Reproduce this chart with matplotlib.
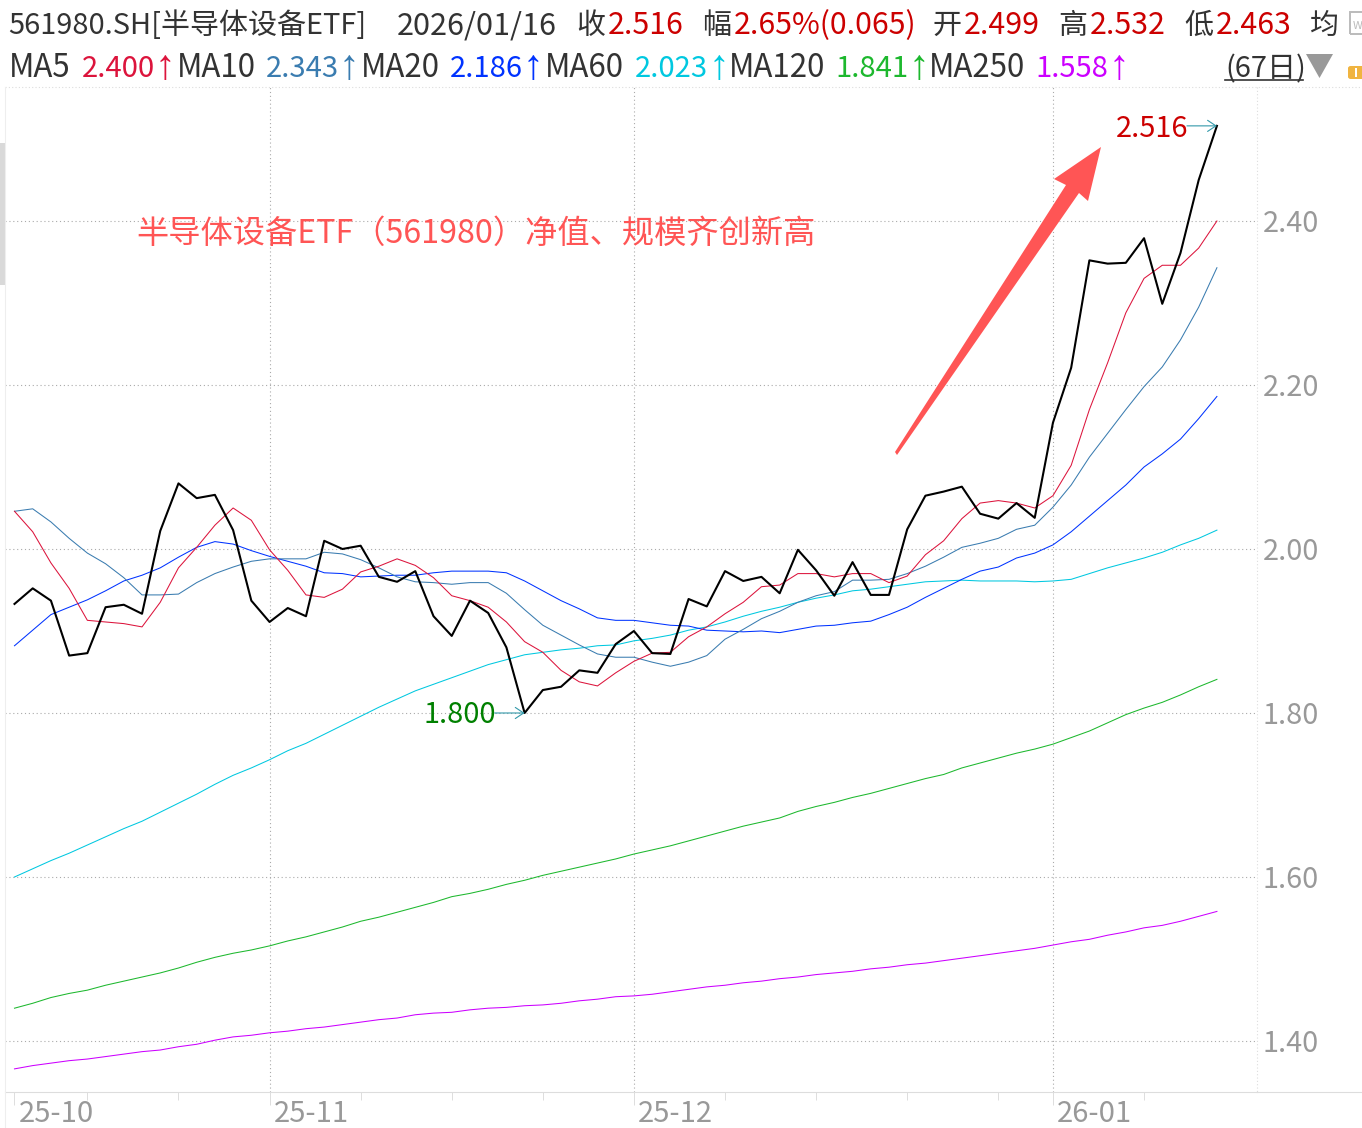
import matplotlib
matplotlib.use('Agg')
import matplotlib.pyplot as plt
from matplotlib.lines import Line2D
from matplotlib.patches import Polygon, Rectangle, FancyBboxPatch
from matplotlib.transforms import ScaledTranslation

plt.rcParams['font.family'] = ['Noto Sans CJK SC', 'DejaVu Sans']

W, H = 1362, 1128

# all series, 67 trading days
close = [1.933, 1.952, 1.937, 1.870, 1.873, 1.929, 1.932, 1.921, 2.022, 2.080, 2.062, 2.066, 2.023, 1.937, 1.911, 1.928, 1.918,
         2.010, 2.000, 2.004, 1.966, 1.960, 1.973, 1.918, 1.894, 1.937, 1.922, 1.880, 1.800, 1.828, 1.832, 1.852, 1.849, 1.884,
         1.900, 1.873, 1.872, 1.939, 1.930, 1.973, 1.961, 1.966, 1.946, 1.999, 1.974, 1.943, 1.984, 1.944, 1.944, 2.024, 2.065,
         2.070, 2.076, 2.043, 2.037, 2.056, 2.038, 2.154, 2.221, 2.352, 2.348, 2.349, 2.379, 2.299, 2.361, 2.450, 2.516]
ma5 = [2.046, 2.021, 1.983, 1.952, 1.913, 1.911, 1.909, 1.905, 1.935, 1.977, 2.002, 2.029, 2.050, 2.035, 1.999, 1.974, 1.944,
       1.941, 1.951, 1.972, 1.979, 1.988, 1.980, 1.965, 1.943, 1.937, 1.929, 1.911, 1.887, 1.874, 1.852, 1.838, 1.833, 1.849,
       1.863, 1.873, 1.874, 1.893, 1.905, 1.921, 1.935, 1.954, 1.956, 1.970, 1.970, 1.966, 1.970, 1.970, 1.959, 1.967, 1.993,
       2.010, 2.037, 2.056, 2.059, 2.056, 2.050, 2.065, 2.102, 2.170, 2.227, 2.288, 2.330, 2.346, 2.346, 2.367, 2.400]
ma10 = [2.046, 2.049, 2.033, 2.013, 1.995, 1.982, 1.965, 1.944, 1.944, 1.945, 1.959, 1.970, 1.978, 1.985, 1.988, 1.988, 1.988,
        1.996, 1.994, 1.987, 1.977, 1.966, 1.960, 1.959, 1.957, 1.959, 1.959, 1.946, 1.926, 1.907, 1.895, 1.883, 1.872, 1.868,
        1.868, 1.862, 1.857, 1.862, 1.870, 1.890, 1.902, 1.915, 1.924, 1.935, 1.943, 1.948, 1.962, 1.962, 1.963, 1.970, 1.979,
        1.990, 2.002, 2.007, 2.013, 2.024, 2.029, 2.051, 2.078, 2.112, 2.141, 2.170, 2.198, 2.222, 2.255, 2.295, 2.343]
ma20 = [1.882, 1.901, 1.920, 1.929, 1.938, 1.949, 1.961, 1.968, 1.977, 1.990, 2.002, 2.009, 2.006, 1.998, 1.991, 1.985, 1.979,
        1.971, 1.970, 1.966, 1.967, 1.968, 1.968, 1.971, 1.973, 1.973, 1.973, 1.971, 1.961, 1.949, 1.937, 1.927, 1.916, 1.913,
        1.913, 1.910, 1.907, 1.906, 1.901, 1.900, 1.899, 1.900, 1.898, 1.902, 1.906, 1.907, 1.910, 1.912, 1.920, 1.929, 1.941,
        1.952, 1.963, 1.973, 1.978, 1.989, 1.995, 2.005, 2.021, 2.040, 2.059, 2.078, 2.100, 2.116, 2.134, 2.159, 2.186]
ma60 = [1.600, 1.610, 1.620, 1.629, 1.639, 1.649, 1.659, 1.668, 1.679, 1.690, 1.701, 1.713, 1.724, 1.733, 1.743, 1.754, 1.763,
        1.774, 1.785, 1.796, 1.807, 1.817, 1.827, 1.835, 1.843, 1.851, 1.859, 1.865, 1.871, 1.874, 1.877, 1.879, 1.882, 1.883,
        1.888, 1.891, 1.895, 1.901, 1.905, 1.911, 1.918, 1.924, 1.929, 1.935, 1.940, 1.944, 1.949, 1.951, 1.954, 1.957, 1.960,
        1.961, 1.962, 1.961, 1.961, 1.961, 1.960, 1.961, 1.963, 1.970, 1.977, 1.983, 1.989, 1.996, 2.005, 2.013, 2.023]
ma120 = [1.440, 1.446, 1.453, 1.458, 1.462, 1.468, 1.473, 1.478, 1.483, 1.489, 1.496, 1.502, 1.507, 1.511, 1.516, 1.522, 1.527,
         1.533, 1.539, 1.546, 1.551, 1.557, 1.563, 1.569, 1.576, 1.580, 1.585, 1.591, 1.596, 1.602, 1.607, 1.612, 1.617, 1.622,
         1.628, 1.633, 1.638, 1.644, 1.650, 1.656, 1.662, 1.667, 1.672, 1.680, 1.686, 1.691, 1.697, 1.702, 1.708, 1.714, 1.720,
         1.725, 1.733, 1.739, 1.745, 1.751, 1.756, 1.762, 1.770, 1.778, 1.788, 1.798, 1.806, 1.813, 1.822, 1.832, 1.841]
ma250 = [1.366, 1.370, 1.373, 1.376, 1.378, 1.381, 1.384, 1.387, 1.389, 1.393, 1.396, 1.401, 1.405, 1.407, 1.410, 1.412, 1.415,
         1.417, 1.420, 1.423, 1.426, 1.428, 1.432, 1.434, 1.435, 1.438, 1.440, 1.441, 1.443, 1.444, 1.446, 1.449, 1.451, 1.454,
         1.455, 1.457, 1.460, 1.463, 1.466, 1.468, 1.471, 1.473, 1.476, 1.478, 1.481, 1.483, 1.485, 1.488, 1.490, 1.493, 1.495,
         1.498, 1.501, 1.504, 1.507, 1.510, 1.513, 1.517, 1.521, 1.524, 1.529, 1.533, 1.538, 1.541, 1.546, 1.552, 1.558]

y_ticks = [1.40, 1.60, 1.80, 2.00, 2.20, 2.40]
month_idx = [0, 14, 34, 57]
month_labels = ['25-10', '25-11', '25-12', '26-01']
minor_idx = [4, 9, 19, 24, 29, 39, 44, 49, 54, 62]
low_idx, high_idx = 28, 66

C_TEXT = '#333333'
C_RED = '#CC0000'
C_AXIS = '#999999'
C_LIGHT = '#DDDDDD'
C_NOTE = '#FF5555'
C_MA5, C_MA10, C_MA20 = '#DC143C', '#3A7CB0', '#0033FF'
C_MA60, C_MA120, C_MA250 = '#00C8E0', '#1DB82E', '#CC00FF'
FS = 20.9      # names and CJK
FS_NUM = 21.8  # numbers run a little wider in the original
FS_MA = 22.5


def fx(x):
    return x / W


def fy(y):
    return 1 - y / H


def put(x, y, s, color=C_TEXT, size=FS, **kw):
    # y is the text baseline in image pixels
    fig.text(fx(x), fy(y), s, color=color, fontsize=size, va='baseline', ha='left', **kw)


fig = plt.figure(figsize=(W / 100, H / 100), dpi=100, facecolor='white')

# plot box in pixels: x 5..1257, y 87..1092
ax = fig.add_axes([fx(5), fy(1092), fx(1257 - 5), (1092 - 87) / H])
ax.set_xlim(-0.521, 68.2)
ax.set_ylim(1.3378, 2.5634)

days = range(len(close))
for vals, col in [(ma250, C_MA250), (ma120, C_MA120), (ma60, C_MA60), (ma20, C_MA20), (ma10, C_MA10), (ma5, C_MA5)]:
    ax.plot(days, vals, color=col, lw=0.75, zorder=3)
ax.plot(days, close, color='black', lw=1.5, zorder=4)

for s in ['top', 'left', 'right']:
    ax.spines[s].set_visible(False)
ax.spines['bottom'].set_color(C_LIGHT)
ax.spines['bottom'].set_linewidth(0.8)

ax.yaxis.tick_right()
ax.set_yticks(y_ticks)
ax.set_yticklabels([f'{v:.2f}' for v in y_ticks], fontsize=20.8, color=C_AXIS)
ax.tick_params(axis='y', length=0, pad=4)

ax.set_xticks(month_idx)
ax.set_xticklabels(month_labels, fontsize=21, color=C_AXIS, ha='left')
ax.set_xticks(minor_idx, minor=True)
ax.tick_params(axis='x', which='major', length=9.4, color=C_LIGHT, width=0.7, pad=-4.5)
ax.tick_params(axis='x', which='minor', length=5.8, color=C_LIGHT, width=0.7)
shift = ScaledTranslation(4 / 100, 0, fig.dpi_scale_trans)
for lab in ax.get_xticklabels():
    lab.set_transform(lab.get_transform() + shift)

ax.grid(True, axis='y', color='#AAAAAA', lw=0.8, ls=(0, (1, 2.5)), zorder=1)
ax.grid(True, axis='x', which='major', color='#AAAAAA', lw=0.8, ls=(0, (1, 2.5)), zorder=1)
# first month only gets its tick, no line through the plot
ax.xaxis.get_gridlines()[0].set_visible(False)

# frame bits outside the data box
fig.add_artist(Line2D([fx(5), 1], [fy(87), fy(87)], color=C_LIGHT, lw=0.8, ls=(0, (1, 2))))
fig.add_artist(Line2D([fx(1257), fx(1257)], [fy(87), fy(1092)], color=C_LIGHT, lw=0.8, ls=(0, (1, 2))))
fig.add_artist(Line2D([fx(1257), 1], [fy(1092), fy(1092)], color=C_LIGHT, lw=0.8))
fig.add_artist(Line2D([fx(5), fx(5)], [fy(87), fy(1128)], color='#EEEEEE', lw=0.8))
fig.add_artist(Rectangle((0, fy(285)), fx(5), (285 - 143) / H, color='#D9D9D9', lw=0))

# header row 1
put(8, 34, '561980.SH[半导体设备ETF]')
put(397, 34, '2026/01/16', size=22)
put(576, 34, '收')
put(608, 34, '2.516', C_RED, FS_NUM)
put(702, 34, '幅')
put(734, 34, '2.65%(0.065)', C_RED, FS_NUM)
put(932, 34, '开')
put(964, 34, '2.499', C_RED, FS_NUM)
put(1058, 34, '高')
put(1090, 34, '2.532', C_RED, FS_NUM)
put(1184, 34, '低')
put(1216, 34, '2.463', C_RED, FS_NUM)
put(1310, 34, '均')
fig.add_artist(Rectangle((fx(1350), fy(34)), fx(20), 22 / H, fill=False, ec='#BBBBBB', lw=1.4))
put(1353, 29, 'W', '#BBBBBB', 8)

# header row 2
ma_items = [(9, 'MA5', 82, '2.400', C_MA5), (177, 'MA10', 266, '2.343', C_MA10), (361, 'MA20', 450, '2.186', C_MA20),
            (545, 'MA60', 635, '2.023', C_MA60), (729, 'MA120', 835, '1.841', C_MA120), (929, 'MA250', 1035, '1.558', C_MA250)]
for x1, name, x2, val, col in ma_items:
    put(x1, 77, name, size=FS_MA)
    put(x2, 77, val, col, 21)
    put(x2 + 73, 79, '↑', col, 30, family='Liberation Sans')
put(1225, 77, '(67日)')
fig.add_artist(Line2D([fx(1225), fx(1303)], [fy(80), fy(80)], color=C_TEXT, lw=1.2))
fig.add_artist(Polygon([(fx(1306), fy(54)), (fx(1333), fy(54)), (fx(1319.5), fy(78))], color='#999999', lw=0))
fig.add_artist(FancyBboxPatch((fx(1348), fy(79)), fx(20), 13 / H, boxstyle='round,pad=0,rounding_size=0.002',
                              color='#F0B440', lw=0, transform=fig.transFigure))
fig.add_artist(Rectangle((fx(1355), fy(77)), fx(2), 9 / H, color='white', lw=0))

# low / high markers on the close line
ax.annotate(f'{close[high_idx]:.3f}', xy=(high_idx, close[high_idx]), xytext=(-101, -3), textcoords='offset pixels',
            color=C_RED, fontsize=20.9, va='center', ha='left', annotation_clip=False)
ax.annotate(f'{close[low_idx]:.3f}', xy=(low_idx, close[low_idx]), xytext=(-101, -2), textcoords='offset pixels',
            color='#008000', fontsize=20.9, va='center', ha='left', annotation_clip=False)
for i in (high_idx, low_idx):
    ax.annotate('', xy=(i, close[i]), xytext=(-30, 0), textcoords='offset pixels', zorder=5,
                arrowprops=dict(arrowstyle='->,head_length=0.6,head_width=0.4', color='#3399AA', lw=0.8, shrinkA=0, shrinkB=0))

# note and big arrow drawn over the chart
fig.text(fx(136), fy(243), '半导体设备ETF（561980）净值、规模齐创新高', color=C_NOTE, fontsize=23.2, va='baseline', ha='left')
arrow_px = [(895, 452), (1066, 185), (1054, 179), (1101, 147), (1088, 201), (1079, 193), (897, 455)]
fig.add_artist(Polygon([(fx(x), fy(y)) for x, y in arrow_px], color=C_NOTE, lw=0))

fig.savefig('out.png', dpi=100, facecolor='white')
